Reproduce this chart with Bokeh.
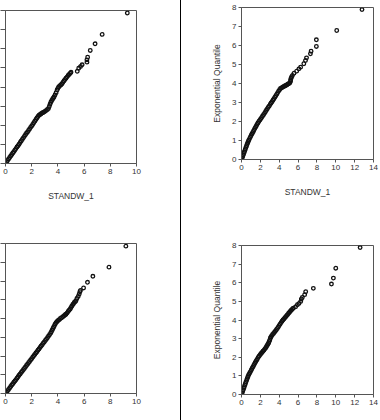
from bokeh.plotting import figure
from bokeh.layouts import row, column
from bokeh.models import Range1d, FixedTicker, Div, Label
from bokeh.embed import file_html
from bokeh.resources import INLINE

# ---------------- data ----------------
x_label = "STANDW_1"
y_label = "Exponential Quantile"
x_ticks_left = [0, 2, 4, 6, 8, 10]
x_ticks_right = [0, 2, 4, 6, 8, 10, 12, 14]
y_ticks = [0, 1, 2, 3, 4, 5, 6, 7, 8]

# top-left panel
a_x = [0.00, 0.08, 0.16, 0.24, 0.32, 0.40, 0.48, 0.56, 0.64, 0.72, 0.80, 0.88, 0.96, 1.04, 1.12,
       1.20, 1.28, 1.36, 1.44, 1.52, 1.60, 1.68, 1.76, 1.84, 1.92, 2.00, 2.08, 2.16, 2.24, 2.32,
       2.40, 2.48, 2.56, 2.64, 2.72, 2.80, 2.88, 2.96, 3.04, 3.12, 3.20, 3.28, 3.34, 3.40, 3.46,
       3.52, 3.58, 3.64, 3.70, 3.78, 3.86, 3.94, 4.00, 4.06, 4.14, 4.22, 4.30, 4.38, 4.46, 4.54,
       4.62, 4.70, 4.78, 4.86, 4.94, 5.00, 5.48, 5.59, 5.73, 5.85, 6.22, 6.22, 6.27, 6.47, 6.84,
       7.38, 9.30]
a_y = [0.00, 0.08, 0.16, 0.24, 0.31, 0.39, 0.47, 0.55, 0.62, 0.70, 0.78, 0.86, 0.93, 1.01, 1.10,
       1.18, 1.26, 1.34, 1.42, 1.50, 1.58, 1.65, 1.73, 1.81, 1.89, 1.96, 2.04, 2.13, 2.21, 2.30,
       2.38, 2.46, 2.52, 2.56, 2.60, 2.64, 2.67, 2.70, 2.74, 2.78, 2.82, 2.87, 2.98, 3.10, 3.20,
       3.28, 3.35, 3.41, 3.48, 3.58, 3.70, 3.84, 3.93, 4.00, 4.06, 4.11, 4.16, 4.24, 4.32, 4.39,
       4.46, 4.53, 4.60, 4.66, 4.72, 4.77, 4.82, 4.98, 5.07, 5.16, 5.30, 5.42, 5.56, 5.91, 6.26,
       6.75, 7.87]

# top-right panel
b_x = [0.00, 0.06, 0.12, 0.18, 0.24, 0.30, 0.36, 0.42, 0.48, 0.54, 0.60, 0.66, 0.72, 0.78, 0.86,
       0.94, 1.02, 1.10, 1.18, 1.26, 1.34, 1.42, 1.50, 1.58, 1.66, 1.74, 1.84, 1.94, 2.04, 2.14,
       2.24, 2.34, 2.44, 2.54, 2.64, 2.74, 2.84, 2.94, 3.04, 3.14, 3.24, 3.34, 3.44, 3.54, 3.64,
       3.74, 3.84, 3.94, 4.04, 4.14, 4.24, 4.34, 4.44, 4.54, 4.64, 4.74, 4.84, 4.94, 5.04, 5.14,
       5.20, 5.22, 5.26, 5.32, 5.40, 5.57, 5.85, 6.09, 6.27, 6.61, 6.79, 6.90, 7.31, 7.38, 7.94,
       7.94, 10.10, 12.78]
b_y = [0.00, 0.08, 0.16, 0.24, 0.32, 0.40, 0.48, 0.56, 0.64, 0.72, 0.80, 0.88, 0.95, 1.02, 1.10,
       1.18, 1.26, 1.34, 1.41, 1.48, 1.56, 1.64, 1.71, 1.78, 1.85, 1.92, 2.00, 2.07, 2.14, 2.21,
       2.29, 2.36, 2.43, 2.51, 2.59, 2.67, 2.75, 2.82, 2.90, 2.97, 3.04, 3.12, 3.20, 3.28, 3.36,
       3.44, 3.52, 3.60, 3.67, 3.74, 3.77, 3.80, 3.83, 3.86, 3.88, 3.91, 3.94, 3.97, 4.00, 4.04,
       4.12, 4.20, 4.28, 4.35, 4.42, 4.54, 4.65, 4.77, 4.86, 5.04, 5.21, 5.35, 5.56, 5.70, 5.95,
       6.30, 6.79, 7.89]

# bottom-left panel
c_x = [0.00, 0.08, 0.16, 0.24, 0.32, 0.40, 0.48, 0.56, 0.64, 0.72, 0.80, 0.88, 0.96, 1.04, 1.12,
       1.20, 1.28, 1.36, 1.44, 1.52, 1.60, 1.68, 1.76, 1.84, 1.92, 2.00, 2.08, 2.16, 2.24, 2.32,
       2.40, 2.48, 2.56, 2.64, 2.72, 2.80, 2.88, 2.96, 3.04, 3.12, 3.20, 3.28, 3.36, 3.44, 3.50,
       3.56, 3.62, 3.68, 3.74, 3.80, 3.86, 3.94, 4.02, 4.10, 4.19, 4.28, 4.38, 4.48, 4.56, 4.62,
       4.70, 4.78, 4.86, 4.94, 5.00, 5.06, 5.13, 5.19, 5.25, 5.32, 5.38, 5.45, 5.55, 5.63, 5.68,
       5.72, 5.96, 6.26, 6.67, 7.90, 9.19]
c_y = [0.00, 0.07, 0.15, 0.22, 0.30, 0.37, 0.45, 0.52, 0.60, 0.67, 0.74, 0.82, 0.89, 0.97, 1.04,
       1.12, 1.19, 1.27, 1.34, 1.41, 1.49, 1.56, 1.64, 1.71, 1.79, 1.86, 1.94, 2.01, 2.08, 2.16,
       2.23, 2.31, 2.38, 2.46, 2.53, 2.60, 2.68, 2.75, 2.83, 2.90, 2.97, 3.05, 3.13, 3.21, 3.29,
       3.38, 3.47, 3.55, 3.63, 3.71, 3.78, 3.84, 3.89, 3.94, 4.00, 4.04, 4.09, 4.15, 4.20, 4.23,
       4.30, 4.37, 4.44, 4.51, 4.59, 4.66, 4.73, 4.79, 4.85, 4.90, 4.95, 5.07, 5.18, 5.31, 5.43,
       5.50, 5.63, 5.93, 6.25, 6.74, 7.86]

# bottom-right panel
d_x = [0.00, 0.06, 0.12, 0.18, 0.24, 0.30, 0.36, 0.42, 0.48, 0.54, 0.60, 0.66, 0.72, 0.80, 0.88,
       0.96, 1.04, 1.12, 1.20, 1.28, 1.36, 1.44, 1.52, 1.60, 1.68, 1.78, 1.88, 1.98, 2.08, 2.18,
       2.28, 2.38, 2.48, 2.56, 2.64, 2.72, 2.80, 2.88, 2.94, 3.00, 3.06, 3.12, 3.20, 3.30, 3.40,
       3.50, 3.60, 3.70, 3.80, 3.90, 4.00, 4.10, 4.20, 4.30, 4.40, 4.50, 4.60, 4.70, 4.80, 4.90,
       5.00, 5.10, 5.20, 5.30, 5.40, 5.50, 5.74, 5.93, 6.10, 6.28, 6.35, 6.45, 6.70, 6.81, 7.62,
       9.54, 9.75, 10.00, 12.58]
d_y = [0.00, 0.08, 0.17, 0.25, 0.34, 0.42, 0.51, 0.59, 0.68, 0.76, 0.85, 0.93, 1.01, 1.09, 1.17,
       1.24, 1.32, 1.40, 1.47, 1.55, 1.62, 1.70, 1.77, 1.84, 1.91, 2.00, 2.07, 2.14, 2.20, 2.26,
       2.32, 2.38, 2.45, 2.50, 2.56, 2.63, 2.70, 2.77, 2.84, 2.93, 3.02, 3.09, 3.16, 3.22, 3.28,
       3.34, 3.41, 3.48, 3.55, 3.62, 3.70, 3.78, 3.86, 3.93, 4.00, 4.06, 4.12, 4.18, 4.24, 4.30,
       4.36, 4.42, 4.48, 4.54, 4.59, 4.64, 4.71, 4.82, 4.89, 5.00, 5.13, 5.21, 5.36, 5.52, 5.70,
       5.93, 6.25, 6.78, 7.89]

# ---------------- styling ----------------
FONT = "Liberation Sans"
FRAME_COLOR = "#555555"
TEXT_COLOR = "#333333"
MARK_COLOR = "#111111"


def panel(xs, ys, xmax, xticks, width, height, borders, left_labels, bottom_label):
    top, right, bottom, left = borders
    p = figure(width=width, height=height, output_backend="svg", toolbar_location=None,
               x_range=Range1d(0, xmax), y_range=Range1d(0, 8),
               min_border_top=top, min_border_right=right,
               min_border_bottom=bottom, min_border_left=left)
    p.grid.visible = False
    p.outline_line_color = FRAME_COLOR
    p.outline_line_width = 1
    p.background_fill_color = "white"
    p.border_fill_color = "white"

    xa = p.xaxis[0]
    xa.ticker = FixedTicker(ticks=xticks)
    xa.minor_tick_line_color = None
    xa.major_tick_in = 0
    xa.major_tick_out = 3
    xa.major_label_standoff = 2
    xa.axis_line_color = FRAME_COLOR
    xa.major_tick_line_color = FRAME_COLOR
    xa.major_label_text_font = FONT
    xa.major_label_text_font_size = "8px"
    xa.major_label_text_color = TEXT_COLOR
    if bottom_label:
        xa.axis_label = x_label
        xa.axis_label_text_font = FONT
        xa.axis_label_text_font_style = "normal"
        xa.axis_label_text_font_size = "8.5px"
        xa.axis_label_text_color = TEXT_COLOR
        xa.axis_label_standoff = 14

    ya = p.yaxis[0]
    ya.ticker = FixedTicker(ticks=y_ticks)
    ya.minor_tick_line_color = None
    ya.major_tick_in = 0
    ya.axis_line_color = FRAME_COLOR
    ya.major_tick_line_color = FRAME_COLOR
    if left_labels:
        ya.major_tick_out = 3
        ya.major_label_standoff = 2
        ya.major_label_text_font = FONT
        ya.major_label_text_font_size = "8px"
        ya.major_label_text_color = TEXT_COLOR
        ya.axis_label = y_label
        ya.axis_label_text_font = FONT
        ya.axis_label_text_font_style = "normal"
        ya.axis_label_text_font_size = "8.5px"
        ya.axis_label_text_color = TEXT_COLOR
        ya.axis_label_standoff = 7
    else:
        # the tick labels of the left panels lie outside the picture
        ya.major_tick_out = 5
        ya.major_label_standoff = 0
        ya.major_label_overrides = {t: "" for t in y_ticks}

    p.scatter(xs, ys, marker="circle", size=3.6, fill_color=None,
              line_color=MARK_COLOR, line_width=1.3)
    return p


pa = panel(a_x, a_y, 10, x_ticks_left, 180, 210, (10, 39, 47, 5), False, True)
pb = panel(b_x, b_y, 14, x_ticks_right, 199, 210, (7, 6, 51, 59), True, True)
pc = panel(c_x, c_y, 10, x_ticks_left, 180, 210, (33, 44, 27, 4), False, False)
pd = panel(d_x, d_y, 14, x_ticks_right, 199, 210, (35, 7, 26, 60), True, False)

# the x title of the lower-left panel is cut by the picture's bottom edge
cut = Label(x=5, y=0, y_offset=-24, text=x_label, text_align="center",
            text_baseline="top", text_font=FONT, text_font_size="8.5px",
            text_color=TEXT_COLOR)
pc.add_layout(cut)

divider = Div(width=1, height=420, margin=0,
              styles={"background-color": "#000000", "padding": "0px"})

layout = row(column(pa, pc), divider, column(pb, pd), spacing=0)

open("out.html", "w").write(file_html(layout, INLINE))
